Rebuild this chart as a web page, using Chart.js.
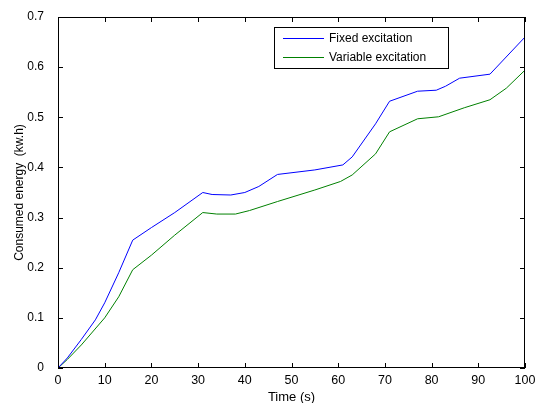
<!DOCTYPE html>
<html>
<head>
<meta charset="utf-8">
<script src="https://cdn.jsdelivr.net/npm/chart.js@4/dist/chart.umd.min.js"></script>
<style>
  html, body { margin: 0; padding: 0; background: #fff; }
  #wrap { width: 536px; height: 403px; position: relative; }
</style>
</head>
<body>
<div id="wrap"><canvas id="chart"></canvas></div>
<script>
const timeFixed = [0, 2, 5, 8, 10, 13, 16, 20, 25, 31, 33, 37, 40, 43, 47, 55, 61, 63, 68, 71, 77, 81, 83, 86, 92.5, 100];
const fixedEnergy = [0, 0.02, 0.057, 0.096, 0.13, 0.19, 0.255, 0.28, 0.31, 0.35, 0.346, 0.345, 0.35, 0.362, 0.386, 0.395, 0.405, 0.421, 0.487, 0.532, 0.552, 0.554, 0.562, 0.578, 0.586, 0.66];

const timeVariable = [0, 2, 5, 10, 13, 16, 20, 25, 31, 34, 38, 41, 47, 55, 60.5, 63, 68, 71, 77, 81.5, 87, 92.5, 96, 100];
const variableEnergy = [0, 0.017, 0.046, 0.1, 0.142, 0.196, 0.225, 0.265, 0.31, 0.307, 0.307, 0.314, 0.332, 0.355, 0.372, 0.385, 0.427, 0.471, 0.497, 0.501, 0.519, 0.535, 0.558, 0.594];

const seriesNames = ['Fixed excitation', 'Variable excitation'];
const xTicks = [0, 10, 20, 30, 40, 50, 60, 70, 80, 90, 100];
const yTicks = [0, 0.1, 0.2, 0.3, 0.4, 0.5, 0.6, 0.7];

const FONT = 'Liberation Sans, Arial, sans-serif';

function toPoints(xs, ys) {
    return xs.map((x, i) => ({x: x, y: ys[i]}));
}

// box around plot area with inward ticks on all four sides
const boxAxes = {
    id: 'boxAxes',
    afterDraw(chart) {
        const {ctx, chartArea: a, scales} = chart;
        const len = 5;
        ctx.save();
        ctx.strokeStyle = '#000';
        ctx.lineWidth = 1;
        ctx.strokeRect(a.left + 0.5, a.top + 0.5, a.right - a.left - 1, a.bottom - a.top - 1);
        ctx.beginPath();
        xTicks.forEach((v) => {
            const px = Math.round(scales.x.getPixelForValue(v)) + 0.5;
            ctx.moveTo(px, a.bottom);
            ctx.lineTo(px, a.bottom - len);
            ctx.moveTo(px, a.top);
            ctx.lineTo(px, a.top + len);
        });
        yTicks.forEach((v) => {
            const py = Math.round(scales.y.getPixelForValue(v)) + 0.5;
            ctx.moveTo(a.left, py);
            ctx.lineTo(a.left + len, py);
            ctx.moveTo(a.right, py);
            ctx.lineTo(a.right - len, py);
        });
        ctx.stroke();
        ctx.restore();
    }
};

// legend drawn inside the axes, top right
const innerLegend = {
    id: 'innerLegend',
    afterDraw(chart) {
        const {ctx} = chart;
        const x0 = 274, y0 = 27, w = 174, h = 41;
        ctx.save();
        ctx.fillStyle = '#fff';
        ctx.fillRect(x0, y0, w, h);
        ctx.strokeStyle = '#000';
        ctx.lineWidth = 1;
        ctx.strokeRect(x0 + 0.5, y0 + 0.5, w, h);
        ctx.font = '12px ' + FONT;
        ctx.textBaseline = 'middle';
        chart.data.datasets.forEach((ds, i) => {
            const cy = y0 + 11 + i * 19 + 0.5;
            ctx.strokeStyle = ds.borderColor;
            ctx.beginPath();
            ctx.moveTo(x0 + 9, cy);
            ctx.lineTo(x0 + 50, cy);
            ctx.stroke();
            ctx.fillStyle = '#000';
            ctx.fillText(ds.label, x0 + 55, cy);
        });
        ctx.restore();
    }
};

new Chart(document.getElementById('chart'), {
    type: 'scatter',
    data: {
        datasets: [{
            label: seriesNames[0],
            data: toPoints(timeFixed, fixedEnergy),
            showLine: true,
            borderColor: '#0000ff',
            borderWidth: 1,
            pointRadius: 0,
            tension: 0
        }, {
            label: seriesNames[1],
            data: toPoints(timeVariable, variableEnergy),
            showLine: true,
            borderColor: '#008000',
            borderWidth: 1,
            pointRadius: 0,
            tension: 0
        }]
    },
    options: {
        responsive: true,
        maintainAspectRatio: false,
        animation: false,
        layout: {
            padding: {top: 17, right: 11, left: 0, bottom: 0}
        },
        scales: {
            x: {
                type: 'linear',
                min: 0,
                max: 100,
                afterBuildTicks: (s) => { s.ticks = xTicks.map((v) => ({value: v})); },
                afterFit: (s) => { s.height = 35; },
                grid: {display: false},
                border: {display: false},
                ticks: {
                    color: '#000',
                    padding: -3,
                    maxRotation: 0,
                    font: {family: FONT, size: 12.5}
                },
                title: {
                    display: true,
                    text: 'Time (s)',
                    color: '#000',
                    padding: {top: 0, bottom: -2},
                    font: {family: FONT, size: 13}
                }
            },
            y: {
                min: 0,
                max: 0.7,
                afterBuildTicks: (s) => { s.ticks = yTicks.map((v) => ({value: v})); },
                afterFit: (s) => { s.width = 58; },
                grid: {display: false},
                border: {display: false},
                ticks: {
                    color: '#000',
                    padding: 6,
                    font: {family: FONT, size: 12},
                    callback: (v) => v === 0 ? '0' : v.toFixed(1)
                },
                title: {
                    display: true,
                    text: 'Consumed energy  (kw.h)',
                    color: '#000',
                    padding: {top: 12, bottom: 0},
                    font: {family: FONT, size: 12}
                }
            }
        },
        plugins: {
            legend: {display: false},
            tooltip: {enabled: false}
        }
    },
    plugins: [boxAxes, innerLegend]
});
</script>
</body>
</html>
